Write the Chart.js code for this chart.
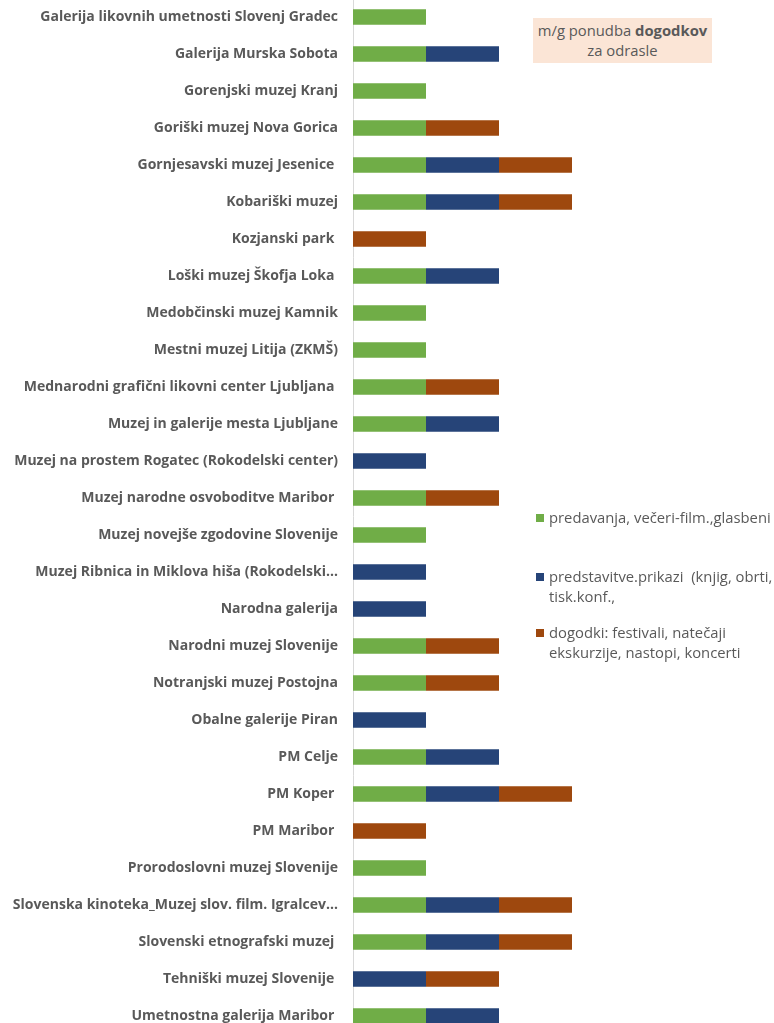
<!DOCTYPE html>
<html>
<head>
<meta charset="utf-8">
<script src="https://cdn.jsdelivr.net/npm/chart.js@4"></script>
<style>
    html, body { margin: 0; padding: 0; background: #fff; overflow: hidden; }
    body { width: 774px; height: 1023px; position: relative; font-family: 'Open Sans', sans-serif; color: #595959; }
    #wrap { position: absolute; left: 0; top: -25.4px; width: 774px; height: 1083px; }
    #title { position: absolute; left: 533px; top: 18px; width: 179px; height: 45px; background: #FBE5D6;
             text-align: center; font-size: 14.8px; line-height: 20px; padding-top: 2px; box-sizing: border-box; white-space: nowrap; }
    .leg { position: absolute; left: 536px; font-size: 14.8px; line-height: 20px; white-space: nowrap; }
    .leg span { display: inline-block; width: 8px; height: 8px; margin-right: 5px; vertical-align: 1px; }
    .leg div { padding-left: 13px; }
</style>
</head>
<body>
<div id="wrap"><canvas id="dogodkiChart"></canvas></div>
<div id="title">m/g ponudba <b>dogodkov</b><br>za odrasle</div>
<div class="leg" style="top:507px"><span style="background:#70AD47"></span>predavanja, večeri-film.,glasbeni</div>
<div class="leg" style="top:566px"><span style="background:#264478"></span>predstavitve.prikazi &nbsp;(knjig, obrti,<div>tisk.konf.,</div></div>
<div class="leg" style="top:622px"><span style="background:#9E480E"></span>dogodki: festivali, natečaji<div>ekskurzije, nastopi, koncerti</div></div>
<script>
    // Categories
    const museums = [
        'Galerija likovnih umetnosti Slovenj Gradec',
        'Galerija Murska Sobota',
        'Gorenjski muzej Kranj',
        'Goriški muzej Nova Gorica',
        'Gornjesavski muzej Jesenice ',
        'Kobariški muzej',
        'Kozjanski park ',
        'Loški muzej Škofja Loka ',
        'Medobčinski muzej Kamnik',
        'Mestni muzej Litija (ZKMŠ)',
        'Mednarodni grafični likovni center Ljubljana ',
        'Muzej in galerije mesta Ljubljane',
        'Muzej na prostem Rogatec (Rokodelski center)',
        'Muzej narodne osvoboditve Maribor ',
        'Muzej novejše zgodovine Slovenije',
        'Muzej Ribnica in Miklova hiša (Rokodelski…',
        'Narodna galerija',
        'Narodni muzej Slovenije',
        'Notranjski muzej Postojna',
        'Obalne galerije Piran',
        'PM Celje',
        'PM Koper ',
        'PM Maribor ',
        'Prorodoslovni muzej Slovenije',
        'Slovenska kinoteka_Muzej slov. film. Igralcev…',
        'Slovenski etnografski muzej ',
        'Tehniški muzej Slovenije ',
        'Umetnostna galerija Maribor '
    ];

    // Series values
    const predavanja   = [1,1,1,1,1,1,0,1,1,1,1,1,0,1,1,0,0,1,1,0,1,1,0,1,1,1,0,1];
    const predstavitve = [0,1,0,0,1,1,0,1,0,0,0,1,1,0,0,1,1,0,0,1,1,1,0,0,1,1,1,1];
    const dogodki      = [0,0,0,1,1,1,1,0,0,0,1,0,0,1,0,0,0,1,1,0,0,1,1,0,1,1,1,0];

    const seriesNames = [
        'predavanja, večeri-film.,glasbeni',
        'predstavitve.prikazi  (knjig, obrti, tisk.konf.,',
        'dogodki: festivali, natečaji ekskurzije, nastopi, koncerti'
    ];

    const colors = { green: '#70AD47', blue: '#264478', orange: '#9E480E' };

    function ds(label, data, color) {
        return {
            label: label,
            data: data,
            backgroundColor: color,
            borderWidth: 0,
            barPercentage: 0.42,
            categoryPercentage: 1
        };
    }

    new Chart(document.getElementById('dogodkiChart'), {
        type: 'bar',
        data: {
            labels: museums,
            datasets: [
                ds(seriesNames[0], predavanja, colors.green),
                ds(seriesNames[1], predstavitve, colors.blue),
                ds(seriesNames[2], dogodki, colors.orange)
            ]
        },
        options: {
            indexAxis: 'y',
            responsive: true,
            maintainAspectRatio: false,
            animation: false,
            layout: { padding: { left: 0, right: 129, top: 0, bottom: 0 } },
            plugins: {
                legend: { display: false },
                tooltip: { enabled: false }
            },
            scales: {
                x: { stacked: true, display: false, min: 0, max: 4 },
                y: {
                    stacked: true,
                    grid: { display: false, drawTicks: false },
                    border: { display: true, color: '#D9D9D9', width: 1 },
                    ticks: {
                        color: '#595959',
                        padding: 15,
                        autoSkip: false,
                        font: { family: 'Open Sans', size: 14, weight: 'bold' }
                    },
                    afterFit: function(scale) { scale.width = 353; }
                }
            }
        }
    });
</script>
</body>
</html>
